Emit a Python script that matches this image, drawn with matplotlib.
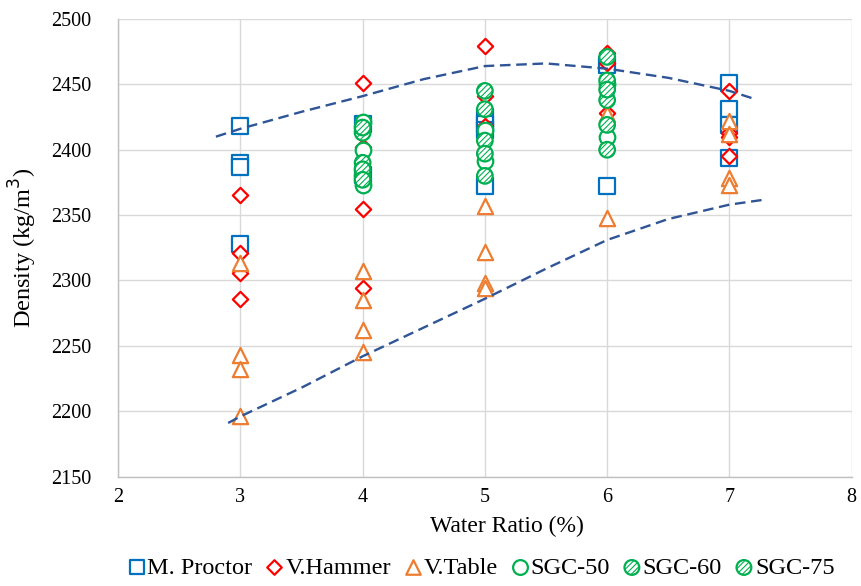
import matplotlib
matplotlib.use("Agg")
import matplotlib.pyplot as plt

plt.rcParams['font.family'] = ['Liberation Serif', 'DejaVu Serif']
plt.rcParams['hatch.color'] = '#00B050'
plt.rcParams['hatch.linewidth'] = 0.8

# Data
mp_x = [3, 3, 3, 3, 4, 4, 5, 5, 5, 5, 6, 6, 7, 7, 7, 7]
mp_y = [2418, 2390, 2387, 2328, 2420, 2381, 2425, 2420, 2415, 2372, 2465, 2372, 2451, 2431, 2419, 2394]

vh_x = [3, 3, 3, 3, 4, 4, 4, 4, 5, 5, 5, 6, 6, 6, 7, 7, 7, 7]
vh_y = [2365, 2321, 2306, 2286, 2451, 2402, 2355, 2294, 2479, 2441, 2418, 2474, 2466, 2428, 2445, 2413, 2410, 2395]

vt_x = [3, 3, 3, 3, 4, 4, 4, 4, 5, 5, 5, 5, 6, 6, 7, 7, 7, 7]
vt_y = [2313, 2243, 2232, 2196, 2307, 2285, 2262, 2245, 2357, 2322, 2298, 2294, 2427, 2348, 2422, 2412, 2378, 2373]

s50_x = [4, 4, 4, 5, 5, 6, 6]
s50_y = [2421, 2400, 2373, 2415, 2391, 2410, 2450]

s60_x = [4, 4, 4, 5, 5, 5, 6, 6, 6]
s60_y = [2413, 2390, 2380, 2445, 2407, 2380, 2471, 2438, 2400]

s75_x = [4, 4, 4, 5, 5, 6, 6, 6]
s75_y = [2417, 2385, 2377, 2431, 2397, 2453, 2446, 2419]

up_x = [2.8, 3.0, 3.5, 4.0, 4.5, 5.0, 5.5, 6.0, 6.5, 7.0, 7.2]
up_y = [2410, 2416, 2429, 2441, 2454, 2464, 2466, 2462, 2455, 2445, 2439]

lo_x = [2.9, 3.0, 3.5, 4.0, 4.5, 5.0, 5.5, 6.0, 6.5, 7.0, 7.3]
lo_y = [2191, 2196, 2218, 2242, 2264, 2286, 2309, 2331, 2347, 2358, 2362]

fig = plt.figure(figsize=(8.62, 5.86), dpi=100)
ax = fig.add_axes([0.137, 0.1867, 0.851, 0.7809])

lw = 1.6
ax.scatter(mp_x, mp_y, s=11**2, marker='s', facecolors='white', edgecolors='#0070C0', linewidths=lw, label='M. Proctor', zorder=3)
ax.scatter(vh_x, vh_y, s=7.8**2, marker='D', facecolors='white', edgecolors='#FF0000', linewidths=lw, label='V.Hammer', zorder=3)
ax.scatter(vt_x, vt_y, s=11**2, marker='^', facecolors='white', edgecolors='#ED7D31', linewidths=lw, label='V.Table', zorder=3)
ax.scatter(s50_x, s50_y, s=11.2**2, marker='o', facecolors='white', edgecolors='#00B050', linewidths=lw, label='SGC-50', zorder=3)
ax.scatter(s60_x, s60_y, s=11.2**2, marker='o', facecolors='white', edgecolors='#00B050', linewidths=lw, hatch='//////', label='SGC-60', zorder=3)
ax.scatter(s75_x, s75_y, s=11.2**2, marker='o', facecolors='white', edgecolors='#00B050', linewidths=lw, hatch='//////', label='SGC-75', zorder=3)

ax.plot(up_x, up_y, color='#2F5597', lw=1.7, dashes=(4.5, 2.4), zorder=4)
ax.plot(lo_x, lo_y, color='#2F5597', lw=1.7, dashes=(4.5, 2.4), zorder=4)

ax.set_xlim(2, 8)
ax.set_ylim(2150, 2500)
ax.set_xticks([2, 3, 4, 5, 6, 7, 8])
ax.set_yticks(range(2150, 2501, 50))
ax.grid(True, color='#D9D9D9', lw=1.0, zorder=0)
ax.set_axisbelow(True)
for s in ['top', 'right']:
    ax.spines[s].set_visible(False)
for s in ['left', 'bottom']:
    ax.spines[s].set_color('#BFBFBF')
    ax.spines[s].set_linewidth(1.0)
ax.tick_params(axis='both', length=0, labelsize=14.5)
ax.tick_params(axis='y', pad=19)
ax.tick_params(axis='x', pad=8)
ax.set_xlabel('Water Ratio (%)', fontsize=17, labelpad=8)
ax.xaxis.set_label_coords(0.53, -0.085)
ax.set_ylabel('Density (kg/m$^3$)', fontsize=17.5, labelpad=9)

fig.legend(loc='center', bbox_to_anchor=(0.559, 0.031), ncol=6, frameon=False,
           fontsize=17.5, handletextpad=0.15, columnspacing=0.6, markerscale=0.95,
           handlelength=0.6, scatterpoints=1, borderaxespad=0)

fig.savefig('out.png', dpi=100)
